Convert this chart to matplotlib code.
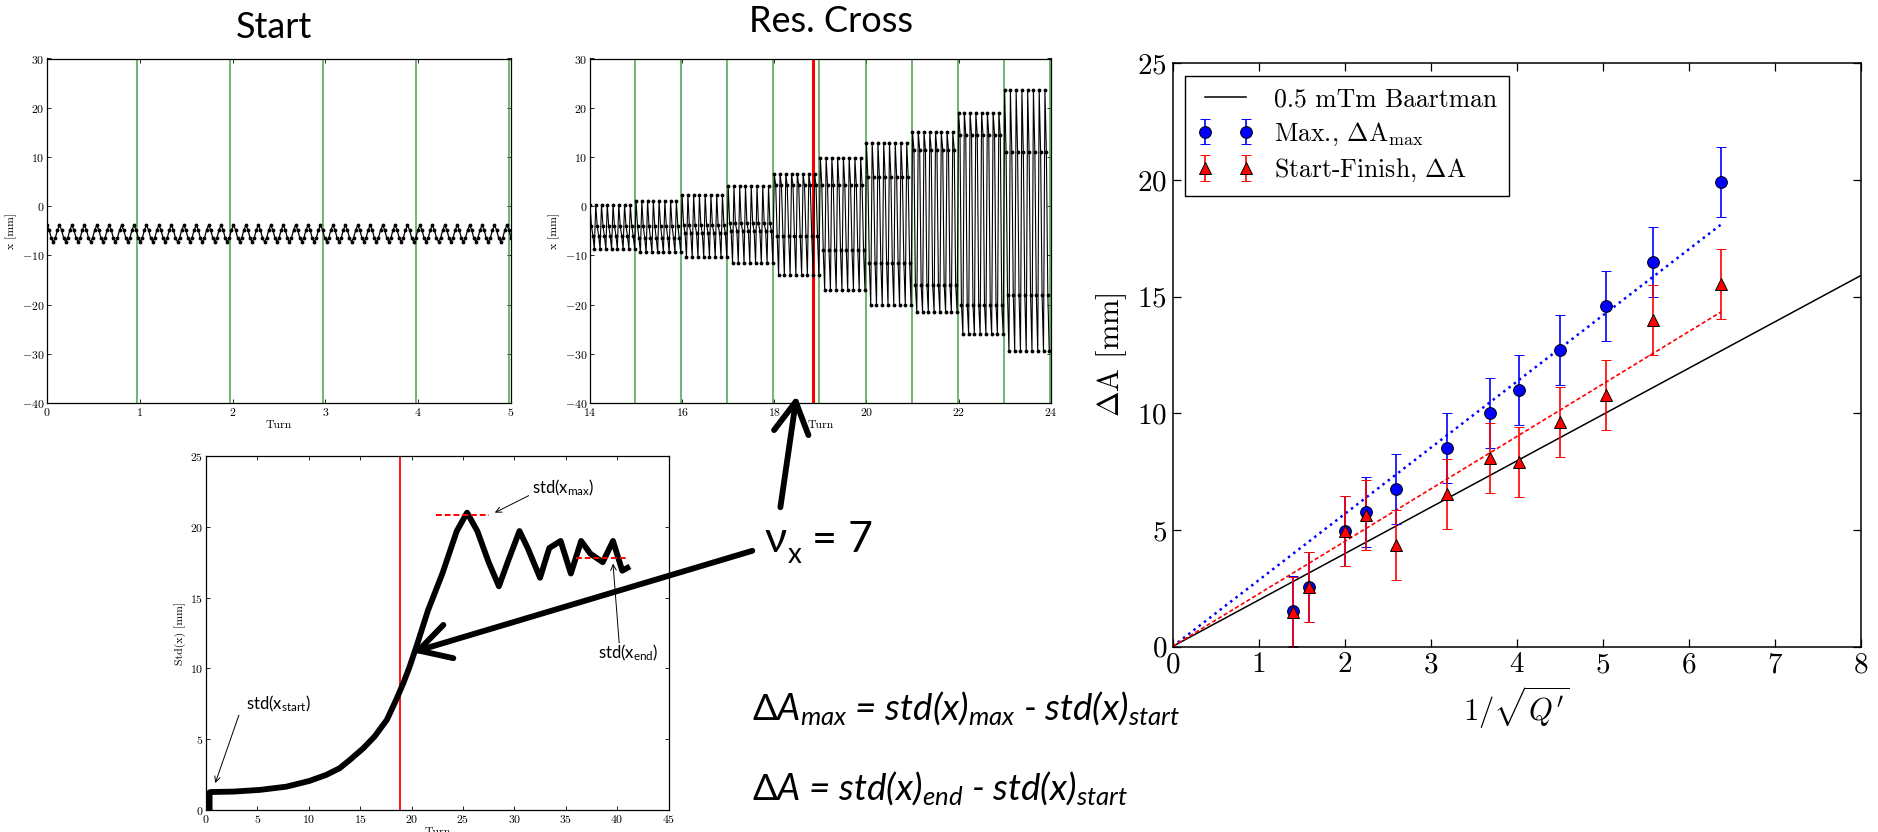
import numpy as np
import matplotlib
matplotlib.use("Agg")
import matplotlib.pyplot as plt
from matplotlib.patches import FancyArrowPatch
from matplotlib.font_manager import FontProperties

plt.rcParams['font.family'] = 'cmr10'
plt.rcParams['mathtext.fontset'] = 'cm'
plt.rcParams['axes.formatter.use_mathtext'] = True
plt.rcParams['mathtext.rm'] = 'Lato'
plt.rcParams['mathtext.it'] = 'Lato:italic'
plt.rcParams['mathtext.bf'] = 'Lato:bold'

SLIDE_FONT = ['Lato', 'DejaVu Sans']

# --- turn-by-turn position, first turns (one betatron oscillation, mm)
start_cycle = [-3.9, -4.8, -6.4, -7.2, -6.5, -4.9]
start_n_samples = 225
start_turns = [0, 5]
start_markers = [0.975, 1.975, 2.975, 3.975, 4.978]

# --- resonance crossing, per turn (14..23): top / mid / bottom levels in mm
res_turn_start = [14, 15, 16, 17, 18, 19, 20, 21, 22, 23]
res_top = [0.3, 1.0, 2.2, 4.0, 6.5, 9.7, 12.8, 15.0, 19.0, 23.5]
res_upper = [-4.0, -4.0, -3.8, -3.5, 4.2, 4.3, 6.0, 11.5, 14.5, 11.0]
res_lower = [-6.0, -6.5, -5.5, -5.0, -6.0, -9.0, -11.5, -16.0, -20.0, -18.0]
res_bottom = [-8.7, -9.4, -10.3, -11.5, -14.0, -17.0, -20.0, -21.5, -26.0, -29.5]
res_cycles_per_turn = 8
res_markers = [14.97, 15.98, 16.98, 17.98, 18.98, 19.99, 20.99, 21.99, 22.99, 23.99]
res_crossing = 18.83

# --- std(x) vs turn
std_turn = [0.35, 0.35, 0.5, 2.66, 5.25, 7.84, 10.05, 11.7, 13.0, 14.0, 15.3, 16.4,
            17.6, 18.5, 19.2, 19.8, 20.5, 21.6, 23.0, 24.4, 25.4, 26.4, 27.5, 28.5,
            29.4, 30.5, 31.3, 32.5, 33.4, 34.5, 35.5, 36.5, 37.4, 38.6, 39.6, 40.5, 41.0]
std_mm = [0.0, 1.25, 1.27, 1.30, 1.42, 1.65, 2.05, 2.48, 2.95, 3.54, 4.36, 5.19,
          6.37, 7.78, 8.96, 10.1, 11.6, 14.1, 16.7, 19.7, 21.0, 19.7, 17.5, 15.8,
          17.6, 19.7, 18.5, 16.4, 18.5, 19.0, 16.7, 19.0, 18.1, 17.5, 19.0, 16.9, 17.1]
std_max_span = [22.4, 27.5]
std_max_level = 20.85
std_end_span = [36.0, 41.0]
std_end_level = 17.8

# --- amplitude growth vs 1/sqrt(Q')
inv_sqrt_q = [1.40, 1.59, 2.00, 2.25, 2.60, 3.19, 3.69, 4.03, 4.51, 5.04, 5.59, 6.38]
dA_max = [1.53, 2.55, 4.94, 5.75, 6.74, 8.53, 10.0, 11.0, 12.7, 14.6, 16.5, 19.9]
dA_end = [1.47, 2.53, 4.94, 5.65, 4.35, 6.55, 8.07, 7.89, 9.64, 10.77, 13.98, 15.56]
dA_err = 1.5
baartman_x = [0, 8]
baartman_dA = [0, 15.9]
max_fit_x = [0, 6.38]
max_fit_dA = [0, 18.1]
end_fit_x = [0, 6.38]
end_fit_dA = [0, 14.35]

W, H = 1878, 832
fig = plt.figure(figsize=(W / 100, H / 100), dpi=100)


def px_rect(left, top, right, bottom):
    return [left / W, 1 - bottom / H, (right - left) / W, (bottom - top) / H]


def to_fig(x, y):
    return x / W, 1 - y / H


def style_small(ax):
    ax.tick_params(direction='in', top=True, right=True, labelsize=8.5, length=3, width=0.6, pad=2)
    for s in ax.spines.values():
        s.set_linewidth(0.9)


# Start
ax1 = fig.add_axes(px_rect(47, 58.5, 511, 403))
start_x = np.tile(start_cycle, start_n_samples // len(start_cycle) + 1)[:start_n_samples]
start_t = np.linspace(start_turns[0], start_turns[1], start_n_samples)
for t in start_markers:
    ax1.axvline(t, color='#3a9a3a', lw=1.2, alpha=0.85)
ax1.plot(start_t, start_x, 'k.-', lw=0.9, ms=3.5)
ax1.set_xlim(0, 5)
ax1.set_ylim(-40, 30)
ax1.set_xticks(range(0, 6))
ax1.set_yticks(range(-40, 31, 10))
ax1.set_xlabel('Turn', fontsize=8.5, labelpad=2)
ax1.set_ylabel('x [mm]', fontsize=8.5, labelpad=3)
style_small(ax1)
fig.text(*to_fig(273.5, 38.3), 'Start', family=SLIDE_FONT, size=26, ha='center', va='baseline')

# Resonance crossing
ax2 = fig.add_axes(px_rect(590, 58.5, 1050.7, 403))
res_x = []
for top, up, lo, bot in zip(res_top, res_upper, res_lower, res_bottom):
    for _ in range(res_cycles_per_turn):
        res_x += [top, up, lo, bot]
res_t = np.linspace(res_turn_start[0], res_turn_start[-1] + 1, len(res_x), endpoint=False)
for t in res_markers:
    ax2.axvline(t, color='#3a9a3a', lw=1.2, alpha=0.85)
ax2.axvline(res_crossing, color='red', lw=2.2)
ax2.plot(res_t, res_x, 'k.-', lw=0.8, ms=3.5)
ax2.set_xlim(14, 24)
ax2.set_ylim(-40, 30)
ax2.set_xticks(range(14, 25, 2))
ax2.set_yticks(range(-40, 31, 10))
ax2.set_xlabel('Turn', fontsize=8.5, labelpad=2)
ax2.set_ylabel('x [mm]', fontsize=8.5, labelpad=3)
style_small(ax2)
fig.text(*to_fig(831, 32.3), 'Res. Cross', family=SLIDE_FONT, size=26, ha='center', va='baseline')

# std(x) vs turn
ax3 = fig.add_axes(px_rect(206, 456, 668.5, 810))
ax3.axvline(res_crossing, color='red', lw=1.3)
ax3.plot(std_turn, std_mm, 'k-', lw=4.2, solid_joinstyle='round')
ax3.plot(std_max_span, [std_max_level] * 2, color='red', ls='--', lw=1.4, dashes=(3, 1.5))
ax3.plot(std_end_span, [std_end_level] * 2, color='red', ls='--', lw=1.4, dashes=(3, 1.5))
ax3.set_xlim(0, 45)
ax3.set_ylim(0, 25)
ax3.set_xticks(range(0, 46, 5))
ax3.set_yticks(range(0, 26, 5))
ax3.set_xlabel('Turn', fontsize=8.5, labelpad=2)
ax3.set_ylabel('Std(x) [mm]', fontsize=8.5, labelpad=3)
style_small(ax3)

thin = dict(arrowstyle='->', lw=0.7, color='k', shrinkA=0, shrinkB=0)
ax3.annotate('', xy=(0.9, 1.9), xytext=(3.2, 6.7), arrowprops=thin)
ax3.annotate('', xy=(28.1, 21.0), xytext=(31.4, 22.2), arrowprops=thin)
ax3.annotate('', xy=(39.6, 17.4), xytext=(40.2, 11.8), arrowprops=thin)
lab_kw = dict(family=SLIDE_FONT, size=12, math_fontfamily='custom', va='baseline')
ax3.text(3.86, 7.1, r'std(x$_{\mathrm{start}}$)', **lab_kw)
ax3.text(31.7, 22.4, r'std(x$_{\mathrm{max}}$)', **lab_kw)
ax3.text(38.1, 10.7, r'std(x$_{\mathrm{end}}$)', **lab_kw)

# amplitude growth
ax4 = fig.add_axes(px_rect(1172.5, 63.3, 1860.7, 646.5))
ax4.plot(baartman_x, baartman_dA, 'k-', lw=1.1, label='0.5 mTm Baartman')
ax4.plot(max_fit_x, max_fit_dA, color='blue', ls=':', lw=1.8)
ax4.plot(end_fit_x, end_fit_dA, color='red', ls='--', lw=1.2, dashes=(2.5, 1.5))
err_kw = dict(mec='k', mew=0.7, ms=8.5, capsize=3.6, elinewidth=1.2, capthick=1.2)
ax4.errorbar(inv_sqrt_q, dA_max, yerr=dA_err, fmt='o', color='blue', mfc='blue',
             label=r'Max., $\Delta\mathrm{A}_{\mathrm{max}}$', **err_kw)
ax4.errorbar(inv_sqrt_q, dA_end, yerr=dA_err, fmt='^', color='red', mfc='red',
             label=r'Start-Finish, $\Delta\mathrm{A}$', **err_kw)
ax4.set_xlim(0, 8)
ax4.set_ylim(0, 25)
ax4.set_xticks(range(0, 9))
ax4.set_yticks(range(0, 26, 5))
ax4.tick_params(direction='in', top=True, right=True, labelsize=21, length=6, width=0.9, pad=4)
ax4.set_xlabel(r"$1/\sqrt{Q'}$", fontsize=22, labelpad=4)
ax4.set_ylabel(r'$\Delta$A [mm]', fontsize=22, labelpad=6)
for s in ax4.spines.values():
    s.set_linewidth(1.1)
leg = ax4.legend(loc='upper left', numpoints=2, fancybox=False, framealpha=1,
                 edgecolor='k', prop=FontProperties(family='cmr10', size=18.5, math_fontfamily='cm'),
                 handlelength=2.2, handletextpad=0.8, borderaxespad=0.5, borderpad=0.45,
                 labelspacing=0.35)
leg.get_frame().set_linewidth(1.0)

# slide annotations
fig.text(*to_fig(765, 551.7), 'ν', family=SLIDE_FONT, size=31, va='baseline')
fig.text(*to_fig(787.5, 563), 'x', family=SLIDE_FONT, size=20, va='baseline')
fig.text(*to_fig(812, 551.7), '= 7', family=SLIDE_FONT, size=31, va='baseline')

formula_kw = dict(family=SLIDE_FONT, style='italic', size=26.5, math_fontfamily='custom', va='baseline')
fig.text(*to_fig(752, 720),
         r'$\mathit{\Delta A_{max}}$ = std(x)$_{\mathit{max}}$ - std(x)$_{\mathit{start}}$', **formula_kw)
fig.text(*to_fig(752, 800),
         r'$\mathit{\Delta A}$ = std(x)$_{\mathit{end}}$ - std(x)$_{\mathit{start}}$', **formula_kw)

for tail, tip in [((755, 550), (410, 653)), ((780, 510), (797, 393))]:
    arr = FancyArrowPatch(to_fig(*tail), to_fig(*tip), transform=fig.transFigure,
                          arrowstyle='->,head_length=0.9,head_width=0.5',
                          mutation_scale=25, lw=4.2, color='k', capstyle='round', zorder=10)
    fig.add_artist(arr)

fig.savefig('out.png', dpi=100)
